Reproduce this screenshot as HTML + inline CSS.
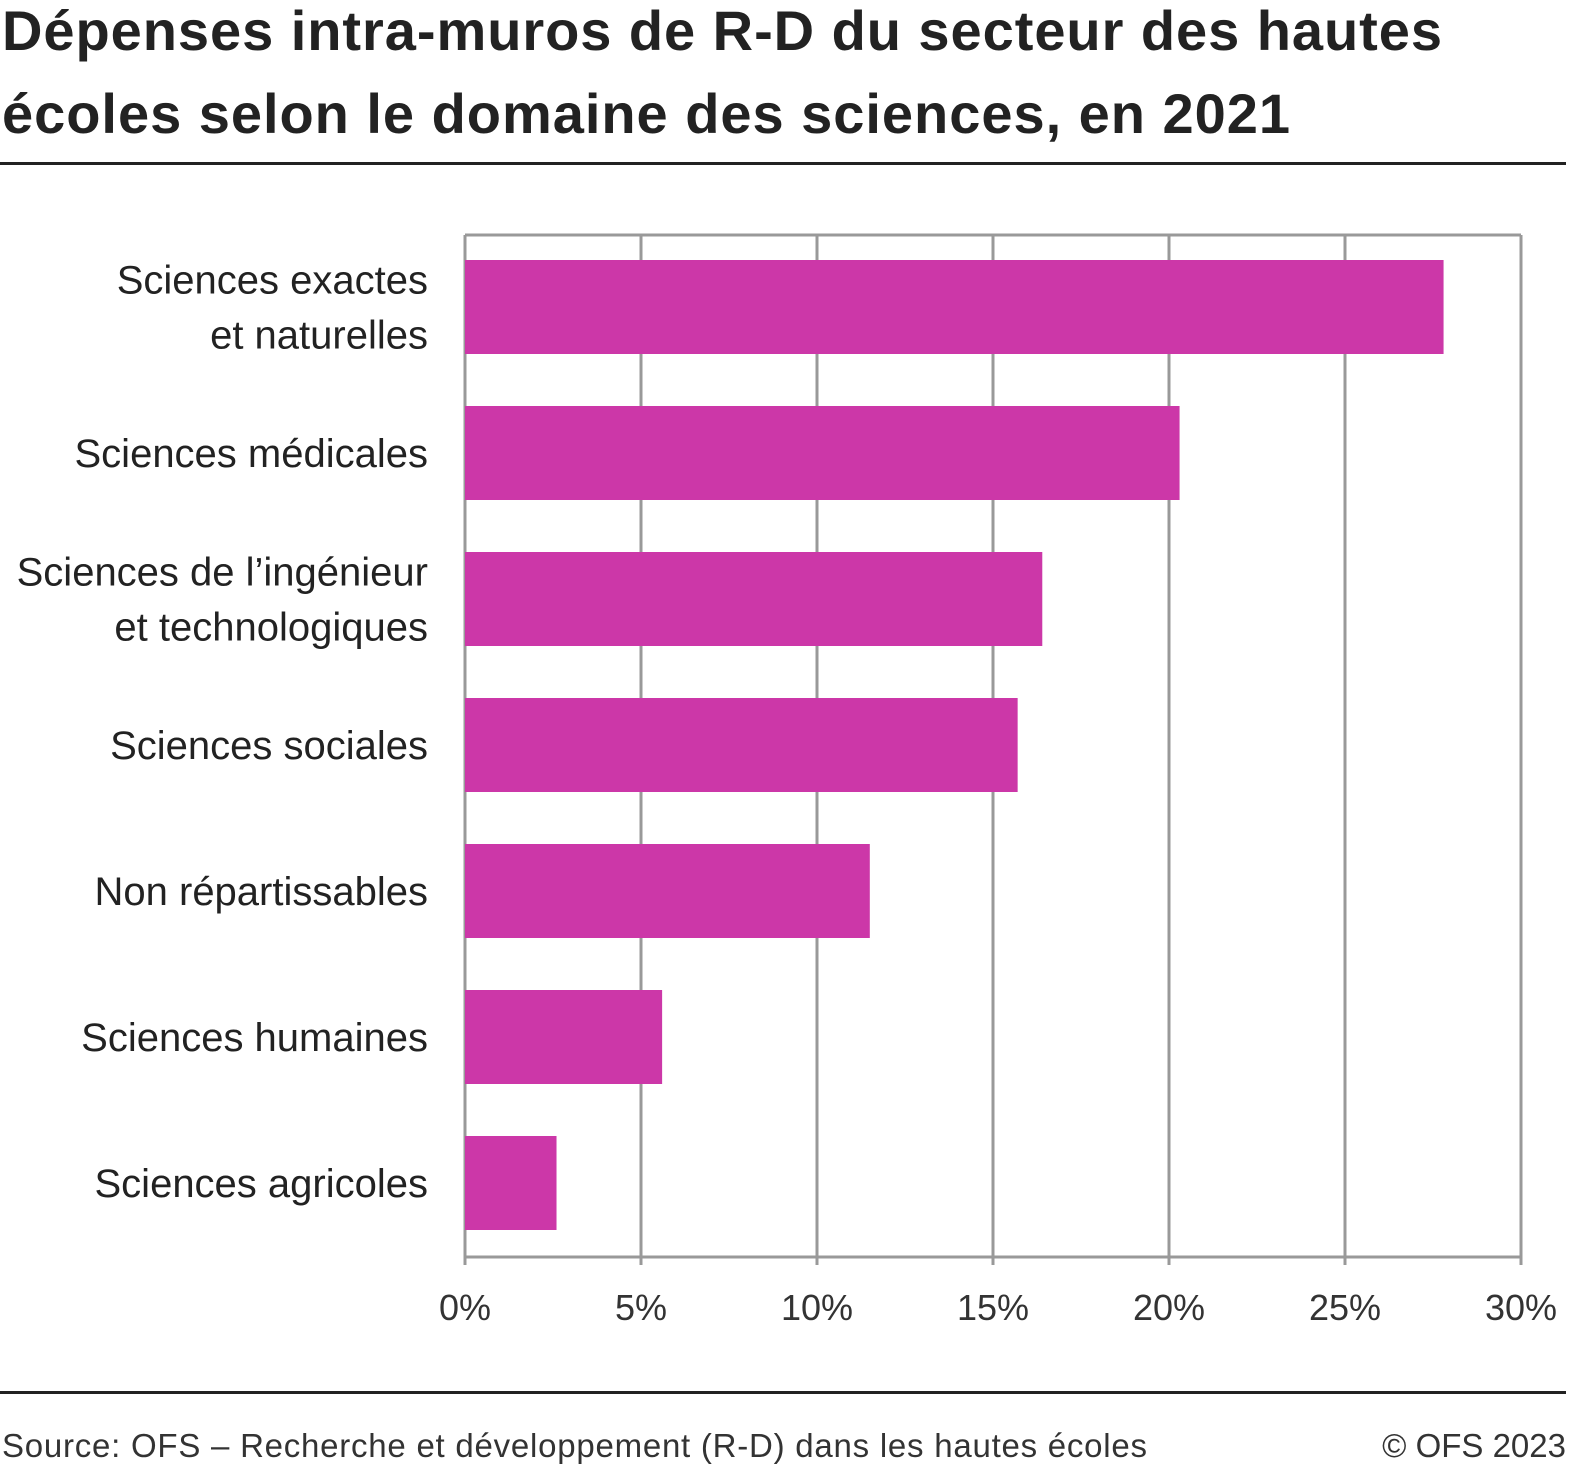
<!DOCTYPE html>
<html><head><meta charset="utf-8"><style>
body{margin:0;background:#fff;width:1569px;height:1468px;overflow:hidden;font-family:"Liberation Sans",sans-serif;}
</style></head><body>
<svg width="1569" height="1468" font-family="Liberation Sans, sans-serif">
<text x="2" y="50" font-size="56" font-weight="bold" fill="#222" textLength="1440">Dépenses intra-muros de R-D du secteur des hautes</text>
<text x="2" y="133" font-size="56" font-weight="bold" fill="#222" textLength="1288">écoles selon le domaine des sciences, en 2021</text>
<rect x="0" y="162" width="1566" height="3" fill="#222"/>
<g id="grid"></g>
<g id="bars"></g>
<g id="labels"></g>
<rect x="0" y="1391" width="1566" height="3" fill="#222"/>
<text x="2" y="1457" font-size="33" fill="#333" textLength="1145">Source: OFS – Recherche et développement (R-D) dans les hautes écoles</text>
<text x="1566" y="1457" font-size="33" fill="#333" text-anchor="end">© OFS 2023</text>
</svg>
<script>
const categories=[["Sciences exactes","et naturelles"],["Sciences médicales"],["Sciences de l’ingénieur","et technologiques"],["Sciences sociales"],["Non répartissables"],["Sciences humaines"],["Sciences agricoles"]];
const values=[27.8,20.3,16.4,15.7,11.5,5.6,2.6];
const ticks=[0,5,10,15,20,25,30];
const tickLabels=["0%","5%","10%","15%","20%","25%","30%"];
const NS="http://www.w3.org/2000/svg";
const x0=465,x1=1521,yTop=235,yBot=1257;
const xs=v=>x0+(v-0)/(30-0)*(x1-x0);
const band=(yBot-yTop)/categories.length;
function mk(t,a,p){const e=document.createElementNS(NS,t);for(const k in a)e.setAttribute(k,a[k]);p.appendChild(e);return e;}
const gGrid=document.getElementById('grid'),gBars=document.getElementById('bars'),gLab=document.getElementById('labels');
ticks.forEach((t,i)=>{
 const ln=mk('line',{x1:xs(t),x2:xs(t),y1:yTop,y2:yBot+8,stroke:'#999','stroke-width':3},gGrid);
 
 
 const tx=mk('text',{x:xs(t),y:1320,'font-size':36,fill:'#333','text-anchor':'middle'},gGrid);
 tx.textContent=tickLabels[i];
 
 
});
const topBorder=mk('line',{x1:x0,x2:x1,y1:yTop,y2:yTop,stroke:'#999','stroke-width':3},gGrid);


const axisLine=mk('line',{x1:x0,x2:x1,y1:yBot,y2:yBot,stroke:'#999','stroke-width':3},gGrid);


values.forEach((v,i)=>{
 const y=yTop+i*band+25;
 const r=mk('rect',{x:x0,y:y,width:xs(v)-x0,height:94,fill:'#cc37a8'},gBars);
 
 
 const lines=categories[i];const cy=y+47;
 lines.forEach((s,j)=>{
  const ty=cy+14+(j-(lines.length-1)/2)*55;
  const t=mk('text',{x:428,y:ty,'font-size':40,fill:'#222','text-anchor':'end'},gLab);
  t.textContent=s;
  
  
 });
});
</script>
</body></html>
